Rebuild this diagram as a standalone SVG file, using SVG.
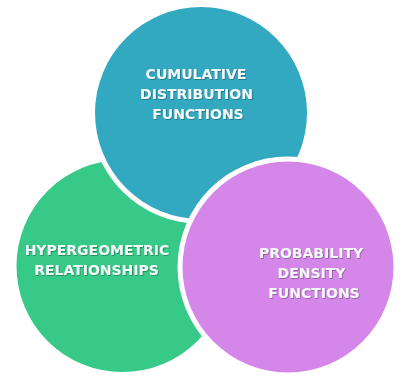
<svg xmlns="http://www.w3.org/2000/svg" width="403" height="388" viewBox="0 0 403 388">
<defs>
<style>
.lbl{font-family:"DejaVu Sans","Liberation Sans",sans-serif;font-weight:bold;font-size:14px;fill:#F4F8F8;text-anchor:middle;filter:url(#sh)}
.gap{fill:#FFFFFF}
</style>
<filter id="sh" x="-10%" y="-30%" width="120%" height="160%">
<feDropShadow dx="0.8" dy="0.8" stdDeviation="0.7" flood-color="#000" flood-opacity="0.35"/>
</filter>
</defs>
<rect width="403" height="388" fill="#FFFFFF"/>
<g id="hypergeometric">
<circle cx="122.5" cy="266" r="106" fill="#37C987"/>
<text class="lbl" x="97" y="255">HYPERGEOMETRIC</text>
<text class="lbl" x="96.5" y="275">RELATIONSHIPS</text>
</g>
<g id="cumulative">
<circle class="gap" cx="201" cy="113" r="111"/>
<circle cx="201" cy="113" r="106" fill="#33A9C1"/>
<text class="lbl" x="196" y="79">CUMULATIVE</text>
<text class="lbl" x="196.5" y="99">DISTRIBUTION</text>
<text class="lbl" x="198" y="119">FUNCTIONS</text>
</g>
<g id="probability">
<circle class="gap" cx="288" cy="267" r="110.5"/>
<circle cx="288" cy="267" r="105.5" fill="#D487E8"/>
<text class="lbl" x="311" y="258">PROBABILITY</text>
<text class="lbl" x="311.5" y="278">DENSITY</text>
<text class="lbl" x="314" y="298">FUNCTIONS</text>
</g>
<g id="connectors"/>
</svg>
